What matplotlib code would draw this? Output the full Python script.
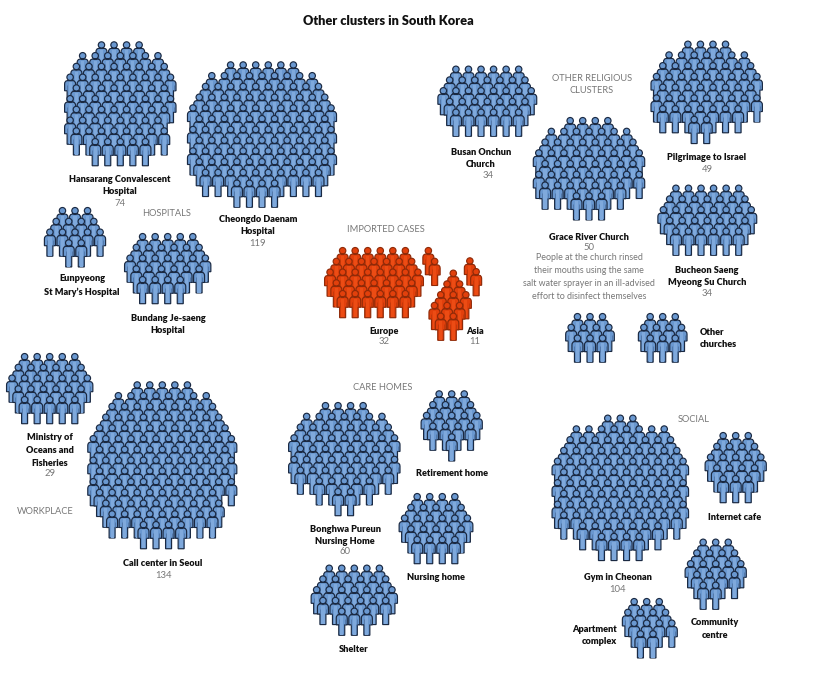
import matplotlib
matplotlib.use('Agg')
import matplotlib.pyplot as plt
from matplotlib.path import Path
from matplotlib.patches import PathPatch

plt.rcParams['font.family'] = ['Lato', 'Noto Sans', 'DejaVu Sans']

# Personas por fila en cada grupo
HANSARANG_ROWS = [4, 7, 8, 9, 8, 9, 8, 8, 8, 5]
CHEONGDO_ROWS = [6, 9, 10, 11, 12, 11, 12, 11, 12, 11, 10, 4]
EUNPYEONG_ROWS = [3, 4, 5, 2]
BUNDANG_ROWS = [5, 6, 7, 6, 4]
EUROPE_ROWS = [6, 7, 8, 7, 6]
ASIA_ROWS = [1, 2, 3, 3, 2]
STRAY_ROWS = [1, 1]
ONCHUN_ROWS = [6, 7, 8, 7, 6]
GRACE_ROWS = [4, 7, 8, 9, 8, 9, 7, 3]
PILGRIMAGE_ROWS = [4, 7, 8, 9, 8, 9, 7, 2]
BUCHEON_ROWS = [6, 7, 8, 7, 6]
OTHER_CHURCH_ROWS = [3, 4, 3]
MINISTRY_ROWS = [5, 6, 7, 6, 5]
CALL_CENTER_ROWS = [5, 8, 9, 10, 11, 12, 11, 12, 11, 12, 10, 10, 9, 4]
BONGHWA_ROWS = [4, 7, 8, 9, 8, 9, 8, 5, 2]
RETIREMENT_ROWS = [3, 4, 5, 4, 1]
NURSING_ROWS = [4, 5, 6, 5, 4]
SHELTER_ROWS = [5, 6, 7, 6, 3]
GYM_ROWS = [3, 8, 9, 10, 11, 10, 11, 10, 11, 10, 7, 4]
CAFE_ROWS = [3, 4, 5, 4, 3]
COMMUNITY_ROWS = [3, 4, 5, 4, 2]
APARTMENT_ROWS = [3, 4, 4, 2]

# Valores impresos bajo cada grupo
CLUSTER_VALUES = {
    'Hansarang': '74', 'Cheongdo': '119', 'Europe': '32', 'Asia': '11',
    'Onchun': '34', 'Grace': '50', 'Pilgrimage': '49', 'Bucheon': '34',
    'Ministry': '29', 'CallCenter': '134', 'Bonghwa': '60', 'Gym': '104',
}
GRACE_NOTE = ['People at the church rinsed', 'their mouths using the same',
              'salt water sprayer in an ill-advised', 'effort to disinfect themselves']

# Layout en pixeles de la imagen
STEP_X = 12.55
STEP_Y = 10.75
PALETTE = {
    'blue': ('#6a98d0', '#7fa9dc', '#4a6c9c', '#1a2942'),
    'red': ('#e2400c', '#ec4c14', '#b8360a', '#8f2a08'),
}
INK = '#111111'
GREY = '#777777'

# rows, desplazamiento por fila (medios pasos), x centro, y de la primera cabeza, color
GROUPS = [
    (HANSARANG_ROWS, {7: -1}, 120.3, 45.0, 'blue'),
    (CHEONGDO_ROWS, {11: -1}, 262.0, 65.0, 'blue'),
    (EUNPYEONG_ROWS, {}, 75.0, 210.7, 'blue'),
    (BUNDANG_ROWS, {4: -1}, 167.7, 236.7, 'blue'),
    (EUROPE_ROWS, {}, 374.0, 250.7, 'red'),
    (ASIA_ROWS, {3: -1, 4: -1}, 453.3, 273.3, 'red'),
    (STRAY_ROWS, {0: -0.5, 1: 0.5}, 431.5, 250.7, 'red'),
    (STRAY_ROWS, {0: -0.5, 1: 0.5}, 473.0, 261.0, 'red'),
    (ONCHUN_ROWS, {}, 487.3, 69.3, 'blue'),
    (GRACE_ROWS, {6: -1}, 589.0, 120.7, 'blue'),
    (PILGRIMAGE_ROWS, {6: -1, 7: -1}, 706.7, 44.3, 'blue'),
    (BUCHEON_ROWS, {}, 707.3, 188.3, 'blue'),
    (OTHER_CHURCH_ROWS, {}, 590.0, 316.7, 'blue'),
    (OTHER_CHURCH_ROWS, {}, 662.7, 316.7, 'blue'),
    (MINISTRY_ROWS, {}, 49.7, 356.7, 'blue'),
    (CALL_CENTER_ROWS, {10: -1}, 162.3, 385.0, 'blue'),
    (BONGHWA_ROWS, {}, 344.3, 405.7, 'blue'),
    (RETIREMENT_ROWS, {}, 451.7, 394.0, 'blue'),
    (NURSING_ROWS, {}, 436.0, 496.7, 'blue'),
    (SHELTER_ROWS, {}, 354.3, 568.3, 'blue'),
    (GYM_ROWS, {}, 620.3, 418.3, 'blue'),
    (CAFE_ROWS, {}, 735.7, 435.7, 'blue'),
    (COMMUNITY_ROWS, {4: -1}, 715.7, 542.3, 'blue'),
    (APARTMENT_ROWS, {2: 1}, 646.7, 601.7, 'blue'),
]


def person_templates():
    """Icono de persona con origen en el centro de la cabeza (y hacia abajo)"""
    head = Path.circle((0, 0), 3.2)
    body = Path(
        [(-2.4, 3.4), (-5.5, 3.4), (-5.5, 6.8), (-5.5, 13.5), (-3.0, 13.5),
         (-3.0, 24.0), (3.0, 24.0), (3.0, 13.5), (5.5, 13.5), (5.5, 6.8),
         (5.5, 3.4), (2.4, 3.4), (-2.4, 3.4)],
        [Path.MOVETO, Path.CURVE3, Path.CURVE3, Path.LINETO, Path.LINETO,
         Path.LINETO, Path.LINETO, Path.LINETO, Path.LINETO, Path.LINETO,
         Path.CURVE3, Path.CURVE3, Path.CLOSEPOLY],
    )
    outline = Path.make_compound_path(head, body)
    strip = Path([(-1.6, 5.0), (1.6, 5.0), (1.6, 23.6), (-1.6, 23.6), (-1.6, 5.0)],
                 [Path.MOVETO, Path.LINETO, Path.LINETO, Path.LINETO, Path.CLOSEPOLY])
    left_arm = Path([(-3.0, 8.0), (-3.0, 13.5)], [Path.MOVETO, Path.LINETO])
    right_arm = Path([(3.0, 8.0), (3.0, 13.5)], [Path.MOVETO, Path.LINETO])
    arms = Path.make_compound_path(left_arm, right_arm)
    return outline, strip, arms


def moved(path, x, y):
    return Path(path.vertices + [x, y], path.codes)


def draw_group(ax, templates, rows, shifts, cx, top, color):
    outline, strip, arms = templates
    fill, light, line, edge = PALETTE[color]
    for i, count in enumerate(rows):
        for j in range(count):
            x = cx + (j - (count - 1) / 2 + shifts.get(i, 0) / 2) * STEP_X
            y = top + i * STEP_Y
            ax.add_patch(PathPatch(moved(outline, x, y), facecolor=fill, edgecolor=edge, linewidth=0.85))
            ax.add_patch(PathPatch(moved(strip, x, y), facecolor=light, edgecolor='none'))
            ax.add_patch(PathPatch(moved(arms, x, y), facecolor='none', edgecolor=line, linewidth=0.5))


def name(ax, x, y, text, ha='center'):
    ax.text(x, y, text, ha=ha, va='center', fontsize=6.6, fontweight='heavy',
            color=INK, linespacing=1.5)


def number(ax, x, y, text):
    ax.text(x, y, text, ha='center', va='center', fontsize=6.8, color=GREY)


def section(ax, x, y, text):
    ax.text(x, y, text, ha='center', va='center', fontsize=6.7, color=GREY, linespacing=1.5)


fig = plt.figure(figsize=(8.25, 6.75), dpi=100, facecolor='white')
ax = fig.add_axes([0, 0, 1, 1])
ax.set_xlim(0, 825)
ax.set_ylim(675, 0)
ax.axis('off')

templates = person_templates()
for rows, shifts, cx, top, color in GROUPS:
    draw_group(ax, templates, rows, shifts, cx, top, color)

ax.text(388, 21, 'Other clusters in South Korea', ha='center', va='center',
        fontsize=9.2, fontweight='heavy', color=INK)

section(ax, 167, 213, 'HOSPITALS')
section(ax, 386, 229, 'IMPORTED CASES')
section(ax, 592, 84.5, 'OTHER RELIGIOUS\nCLUSTERS')
section(ax, 382.5, 388, 'CARE HOMES')
section(ax, 45, 512, 'WORKPLACE')
section(ax, 694, 419, 'SOCIAL')

name(ax, 120, 185.5, 'Hansarang Convalescent\nHospital')
number(ax, 120, 203, CLUSTER_VALUES['Hansarang'])
name(ax, 258, 225.5, 'Cheongdo Daenam\nHospital')
number(ax, 258, 243, CLUSTER_VALUES['Cheongdo'])
name(ax, 82, 285.5, 'Eunpyeong\nSt Mary\u2019s Hospital')
name(ax, 168, 324.5, 'Bundang Je-saeng\nHospital')
name(ax, 384, 331, 'Europe')
number(ax, 384, 342, CLUSTER_VALUES['Europe'])
name(ax, 475, 331, 'Asia')
number(ax, 475, 342, CLUSTER_VALUES['Asia'])
name(ax, 481, 158.5, 'Busan Onchun\nChurch')
number(ax, 488, 176, CLUSTER_VALUES['Onchun'])
name(ax, 589, 237, 'Grace River Church')
number(ax, 589, 248, CLUSTER_VALUES['Grace'])
ax.text(589, 277, '\n'.join(GRACE_NOTE), ha='center', va='center', fontsize=6.4,
        color=GREY, linespacing=1.55)
name(ax, 707, 157, 'Pilgrimage to Israel')
number(ax, 707, 169, CLUSTER_VALUES['Pilgrimage'])
name(ax, 707, 276.5, 'Bucheon Saeng\nMyeong Su Church')
number(ax, 707, 294, CLUSTER_VALUES['Bucheon'])
name(ax, 700, 338.5, 'Other\nchurches', ha='left')
name(ax, 452, 473, 'Retirement home')
name(ax, 436, 578, 'Nursing home')
name(ax, 345, 535.5, 'Bonghwa Pureun\nNursing Home')
number(ax, 345, 552, CLUSTER_VALUES['Bonghwa'])
name(ax, 354, 650, 'Shelter')
name(ax, 50, 450.5, 'Ministry of\nOceans and\nFisheries')
number(ax, 50, 473, CLUSTER_VALUES['Ministry'])
name(ax, 163, 563, 'Call center in Seoul')
number(ax, 163, 575, CLUSTER_VALUES['CallCenter'])
name(ax, 735, 517, 'Internet cafe')
name(ax, 618, 578, 'Gym in Cheonan')
number(ax, 618, 589, CLUSTER_VALUES['Gym'])
name(ax, 715, 629, 'Community\ncentre')
name(ax, 617, 635.5, 'Apartment\ncomplex', ha='right')

fig.savefig('out.png', dpi=100, facecolor='white')
